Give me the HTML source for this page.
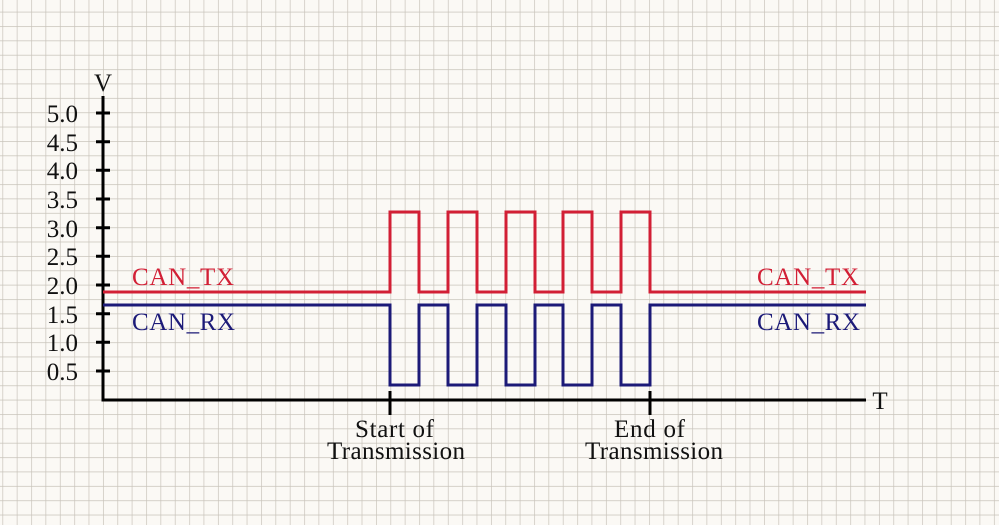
<!DOCTYPE html>
<html><head><meta charset="utf-8"><style>
html,body{margin:0;padding:0;background:#fbf9f5;}
svg{display:block;}
text{font-family:"Liberation Serif",serif;}
</style></head><body>
<svg width="999" height="525" viewBox="0 0 999 525" xmlns="http://www.w3.org/2000/svg">
<defs>
<pattern id="g" patternUnits="userSpaceOnUse" x="2.4" y="11.7" width="14.37" height="14.37">
<path d="M0 0H14.37M0 0V14.37" stroke="#c8c3ba" stroke-width="1.4" fill="none"/>
</pattern>
</defs>
<rect width="999" height="525" fill="#fbf9f5"/>
<rect width="999" height="525" fill="url(#g)"/>
<g stroke="#000" stroke-width="3" fill="none">
<path d="M103 96V400H866"/>
<path d="M96 113H110M96 141.7H110M96 170.3H110M96 199H110M96 227.7H110M96 256.3H110M96 285H110M96 313.7H110M96 342.3H110M96 371H110"/>
<path d="M390 391V415M650 391V415"/>
</g>
<path d="M103 292H390V212H419V292H448V212H477V292H506V212H535V292H563V212H592V292H621V212H650V292H866" stroke="#d21f35" stroke-width="3" fill="none"/>
<path d="M103 305H390V385H419V305H448V385H477V305H506V385H535V305H563V385H592V305H621V385H650V305H866" stroke="#1c1a78" stroke-width="3" fill="none"/>
<g font-size="25" fill="#111" text-anchor="end">
<text x="78" y="122">5.0</text><text x="78" y="151">4.5</text><text x="78" y="179">4.0</text>
<text x="78" y="208">3.5</text><text x="78" y="237">3.0</text><text x="78" y="265">2.5</text>
<text x="78" y="294">2.0</text><text x="78" y="323">1.5</text><text x="78" y="351">1.0</text>
<text x="78" y="380">0.5</text>
</g>
<text x="103" y="91" font-size="25" text-anchor="middle" fill="#111">V</text>
<text x="880" y="409" font-size="25" text-anchor="middle" fill="#111">T</text>
<g font-size="25" fill="#d21f35"><text x="132" y="285" textLength="102">CAN_TX</text><text x="757" y="285" textLength="102">CAN_TX</text></g>
<g font-size="25" fill="#1c1a78"><text x="132" y="330" textLength="103">CAN_RX</text><text x="757" y="330" textLength="103">CAN_RX</text></g>
<g font-size="25" fill="#111">
<text x="355" y="437" textLength="79">Start of</text><text x="327" y="459" textLength="138">Transmission</text>
<text x="614" y="437" textLength="71">End of</text><text x="585" y="459" textLength="138">Transmission</text>
</g>
</svg>
</body></html>
